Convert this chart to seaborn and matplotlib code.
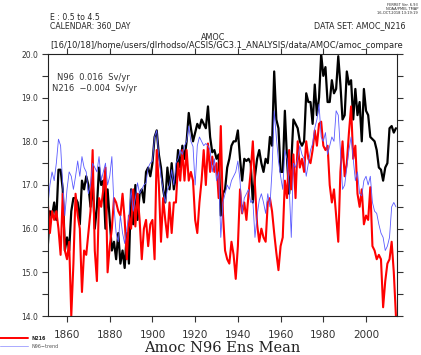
import numpy as np
import pandas as pd
import matplotlib
matplotlib.use('Agg')
import matplotlib.pyplot as plt
import seaborn as sns

years = np.arange(1851, 2015)

# N96 ensemble mean (black)
n96 = [15.6, 16.4, 16.3, 16.6, 16.2, 17.35, 17.35, 16.9, 15.5, 15.8,
       15.5, 16.4, 16.7, 16.7, 16.6, 16.1, 17.1, 16.9, 17.2, 17.0,
       16.5, 17.1, 16.0, 16.5, 17.4, 17.0, 17.1, 16.0, 16.9, 16.2,
       15.5, 15.7, 15.3, 15.9, 15.2, 15.5, 15.1, 15.9, 15.2, 16.9,
       16.1, 17.0, 16.2, 16.8, 16.9, 16.6, 17.3, 17.4, 17.2, 17.5,
       18.1, 18.25, 17.7, 17.4, 16.9, 16.6, 17.4, 16.9, 17.5, 16.9,
       17.2, 17.8, 17.4, 17.9, 17.6, 18.0, 18.65, 18.3, 18.0, 18.2,
       18.4, 18.3, 18.5, 18.4, 18.3, 18.8, 18.1, 17.75, 17.8, 17.6,
       17.7, 16.3, 16.8, 16.9, 17.4, 17.6, 17.9, 18.0, 18.0, 18.25,
       17.6, 17.1, 17.6, 17.55, 17.6, 17.5, 16.6, 17.2, 17.6, 17.8,
       17.5, 17.3, 17.6, 17.5, 18.1, 17.9, 19.6, 18.5, 18.3, 17.3,
       17.3, 18.7, 17.6, 16.8, 17.5, 18.5, 18.4, 18.3, 18.0, 17.9,
       18.0, 19.1, 18.9, 18.9, 18.4, 19.3, 18.6, 19.0, 20.0, 19.5,
       19.7, 18.9, 18.9, 19.4, 19.1, 19.2, 19.95, 19.3, 18.5, 18.6,
       19.6, 19.3, 19.4, 18.5, 19.2, 18.6, 18.9, 18.0, 19.2, 18.7,
       18.6, 18.1, 18.05, 18.0, 17.8, 17.4, 17.35, 17.1, 17.4, 17.5,
       18.3, 18.35, 18.2, 18.3]

# N216 (red)
n216 = [16.6, 15.9, 16.4, 16.2, 16.4, 16.0, 15.4, 16.8, 15.5, 15.3,
        15.7, 14.0, 15.2, 16.8, 16.3, 16.0, 14.55, 15.5, 15.4, 15.9,
        16.4, 17.8, 15.5, 14.8, 16.7, 16.5, 16.9, 17.4, 15.0, 15.6,
        16.0, 16.7, 16.6, 16.4, 16.3, 16.8, 16.2, 15.3, 16.3, 16.0,
        16.9, 16.05, 16.8, 16.2, 15.3, 16.0, 16.2, 15.6, 16.1, 16.2,
        15.3, 17.8, 17.0, 15.7, 16.7, 16.2, 15.8, 16.6, 15.9, 16.6,
        16.6, 17.5, 17.1, 17.8, 17.1, 17.8, 17.1, 17.3, 17.1, 16.2,
        15.9, 16.6, 17.1, 17.8, 17.0, 17.95, 17.3, 17.65, 17.3, 17.5,
        16.7, 18.35, 16.35, 15.5, 15.3, 15.2, 15.7, 15.4, 14.85, 15.6,
        16.9, 16.35, 16.6, 16.2, 16.8, 17.3, 18.0, 17.0, 16.1, 15.7,
        16.0, 15.8, 15.7, 16.6, 16.7, 16.4, 15.9, 15.45, 15.05, 15.6,
        15.8, 17.1, 16.7, 17.8, 16.9, 17.7, 16.7, 18.0, 17.4, 17.6,
        17.3, 18.0, 17.6, 17.5, 17.8, 18.25, 17.9, 18.4, 18.45, 17.9,
        17.8, 17.9, 17.0, 16.6, 16.9, 16.3, 15.7, 17.3, 18.0, 17.2,
        17.5, 18.2, 18.8, 17.6, 17.9, 16.8, 16.5, 16.9, 16.1, 16.3,
        16.2, 16.95, 15.6, 15.5, 15.3, 15.4, 15.3, 14.2, 14.8, 15.2,
        15.3, 15.7, 15.0, 14.0]

# N96 second line (thin blue)
n96_trend = [16.5, 17.0, 17.3, 17.1, 17.5, 18.05, 17.9, 17.0, 16.3, 16.9,
             17.3, 17.2, 16.9, 17.2, 17.55, 17.2, 17.65, 17.4, 17.3, 16.8,
             17.0, 17.5, 17.4, 17.3, 17.65, 17.1, 17.3, 17.5, 17.0, 17.2,
             17.65, 16.5, 15.9, 15.7, 16.3, 15.9, 15.66, 16.0, 16.3, 16.9,
             16.4, 16.7, 17.05, 16.8, 16.9, 17.0, 17.05, 17.4, 17.5, 17.55,
             18.1, 18.25, 17.65, 17.2, 16.9, 16.6, 16.9, 17.0, 17.35, 17.0,
             17.5, 17.6, 17.8, 17.7, 17.9, 18.0, 18.35, 18.0, 17.88, 17.0,
             17.9, 18.1, 18.0, 17.9, 17.95, 17.9, 17.8, 17.3, 17.6, 17.1,
             17.3, 15.8, 16.6, 16.8, 17.0, 16.9, 17.1, 17.2, 17.3, 17.55,
             17.1, 16.35, 16.7, 16.8, 16.9, 16.6, 16.65, 15.8, 16.3, 16.65,
             16.8, 16.6, 16.35, 16.8, 16.5, 17.35, 18.7, 18.1, 17.55, 17.2,
             16.9, 17.8, 17.6, 17.0, 15.8, 17.5, 17.4, 17.6, 17.9, 17.7,
             17.6, 17.2, 17.5, 17.8, 17.95, 18.3, 18.5, 18.85, 18.1, 18.0,
             18.2, 17.7, 17.9, 18.1, 18.0, 18.7, 18.6, 17.8, 16.9, 17.0,
             17.4, 17.8, 18.1, 17.6, 17.1, 17.3, 16.8, 16.75, 17.1, 17.2,
             17.0, 17.2, 16.6, 16.4, 16.35, 16.1, 15.9, 15.8, 15.5, 15.6,
             15.8, 16.5, 16.6, 16.5]

x_ticks = [1860, 1880, 1900, 1920, 1940, 1960, 1980, 2000]
y_ticks = [14.0, 15.0, 16.0, 17.0, 18.0, 19.0, 20.0]

df = pd.DataFrame({'year': years, 'N96': n96, 'N216': n216, 'N96-trend': n96_trend})

sns.set_style('ticks')
plt.rcParams['font.family'] = ['DejaVu Sans']

fig = plt.figure(figsize=(4.21, 3.55), dpi=100)
ax = fig.add_axes([48/421, 1-316/355, (397-48)/421, (316-54)/355])

sns.lineplot(data=df, x='year', y='N96', color='black', lw=1.6, ax=ax)
sns.lineplot(data=df, x='year', y='N216', color='#ff0000', lw=1.5, ax=ax)
sns.lineplot(data=df, x='year', y='N96-trend', color='#5a5aff', lw=0.6, ax=ax)

ax.set_xlim(1851.1, 2014.5)
ax.set_ylim(14.0, 20.0)
ax.set_xlabel('')
ax.set_ylabel('')
ax.set_xticks(x_ticks)
ax.set_yticks(y_ticks)
ax.set_yticklabels(['%.1f' % v for v in y_ticks])
ax.set_yticks(np.arange(14.5, 20, 1.0), minor=True)
ax.tick_params(axis='both', which='both', direction='out', length=4, width=0.8,
               color='#333333', top=True, right=True)
ax.tick_params(axis='x', labelsize=7.5, labelcolor='#333333', pad=6)
ax.tick_params(axis='y', labelsize=5.5, labelcolor='#333333', pad=3)
for s in ax.spines.values():
    s.set_linewidth(0.8)
    s.set_color('#222222')

ax.text(0.025, 0.90, 'N96  0.016  Sv/yr', transform=ax.transAxes, fontsize=6, color='#333333')
ax.text(0.012, 0.858, 'N216  \u22120.004  Sv/yr', transform=ax.transAxes, fontsize=6, color='#333333')

# header texts
fig.text(50/421, 1-17/355, 'E : 0.5 to 4.5', fontsize=5.6, va='center')
fig.text(50/421, 1-26/355, 'CALENDAR: 360_DAY', fontsize=5.6, va='center')
fig.text(405/421, 1-26/355, 'DATA SET: AMOC_N216', fontsize=5.8, va='center', ha='right')
fig.text(213/421, 1-37/355, 'AMOC', fontsize=5.8, va='center', ha='center')
fig.text(50/421, 1-45/355, '[16/10/18]/home/users/dlrhodso/ACSIS/GC3.1_ANALYSIS/data/AMOC/amoc_compare',
         fontsize=6.0, va='center', color='#222222')
fig.text(418/421, 1-3/355, 'FERRET Ver. 6.93\nNOAA/PMEL TMAP\n16-OCT-2018 13:19:19',
         fontsize=2.6, va='top', ha='right', linespacing=1.0)

# legend at bottom left
fig.add_artist(plt.Line2D([0, 28/421], [1-338/355, 1-338/355], color='#ff0000', lw=1.4))
fig.add_artist(plt.Line2D([0, 28/421], [1-346/355, 1-346/355], color='#aaaaff', lw=0.7))
fig.text(32/421, 1-338/355, 'N216', fontsize=3.5, va='center', weight='bold')
fig.text(32/421, 1-346/355, 'N96\u2212trend', fontsize=3.5, va='center', color='#555555')

fig.text(222/421, 1-348/355, 'Amoc N96 Ens Mean', fontsize=10.5, va='center', ha='center',
         family='DejaVu Serif', color='#222222')

fig.savefig('out.png', dpi=100)
